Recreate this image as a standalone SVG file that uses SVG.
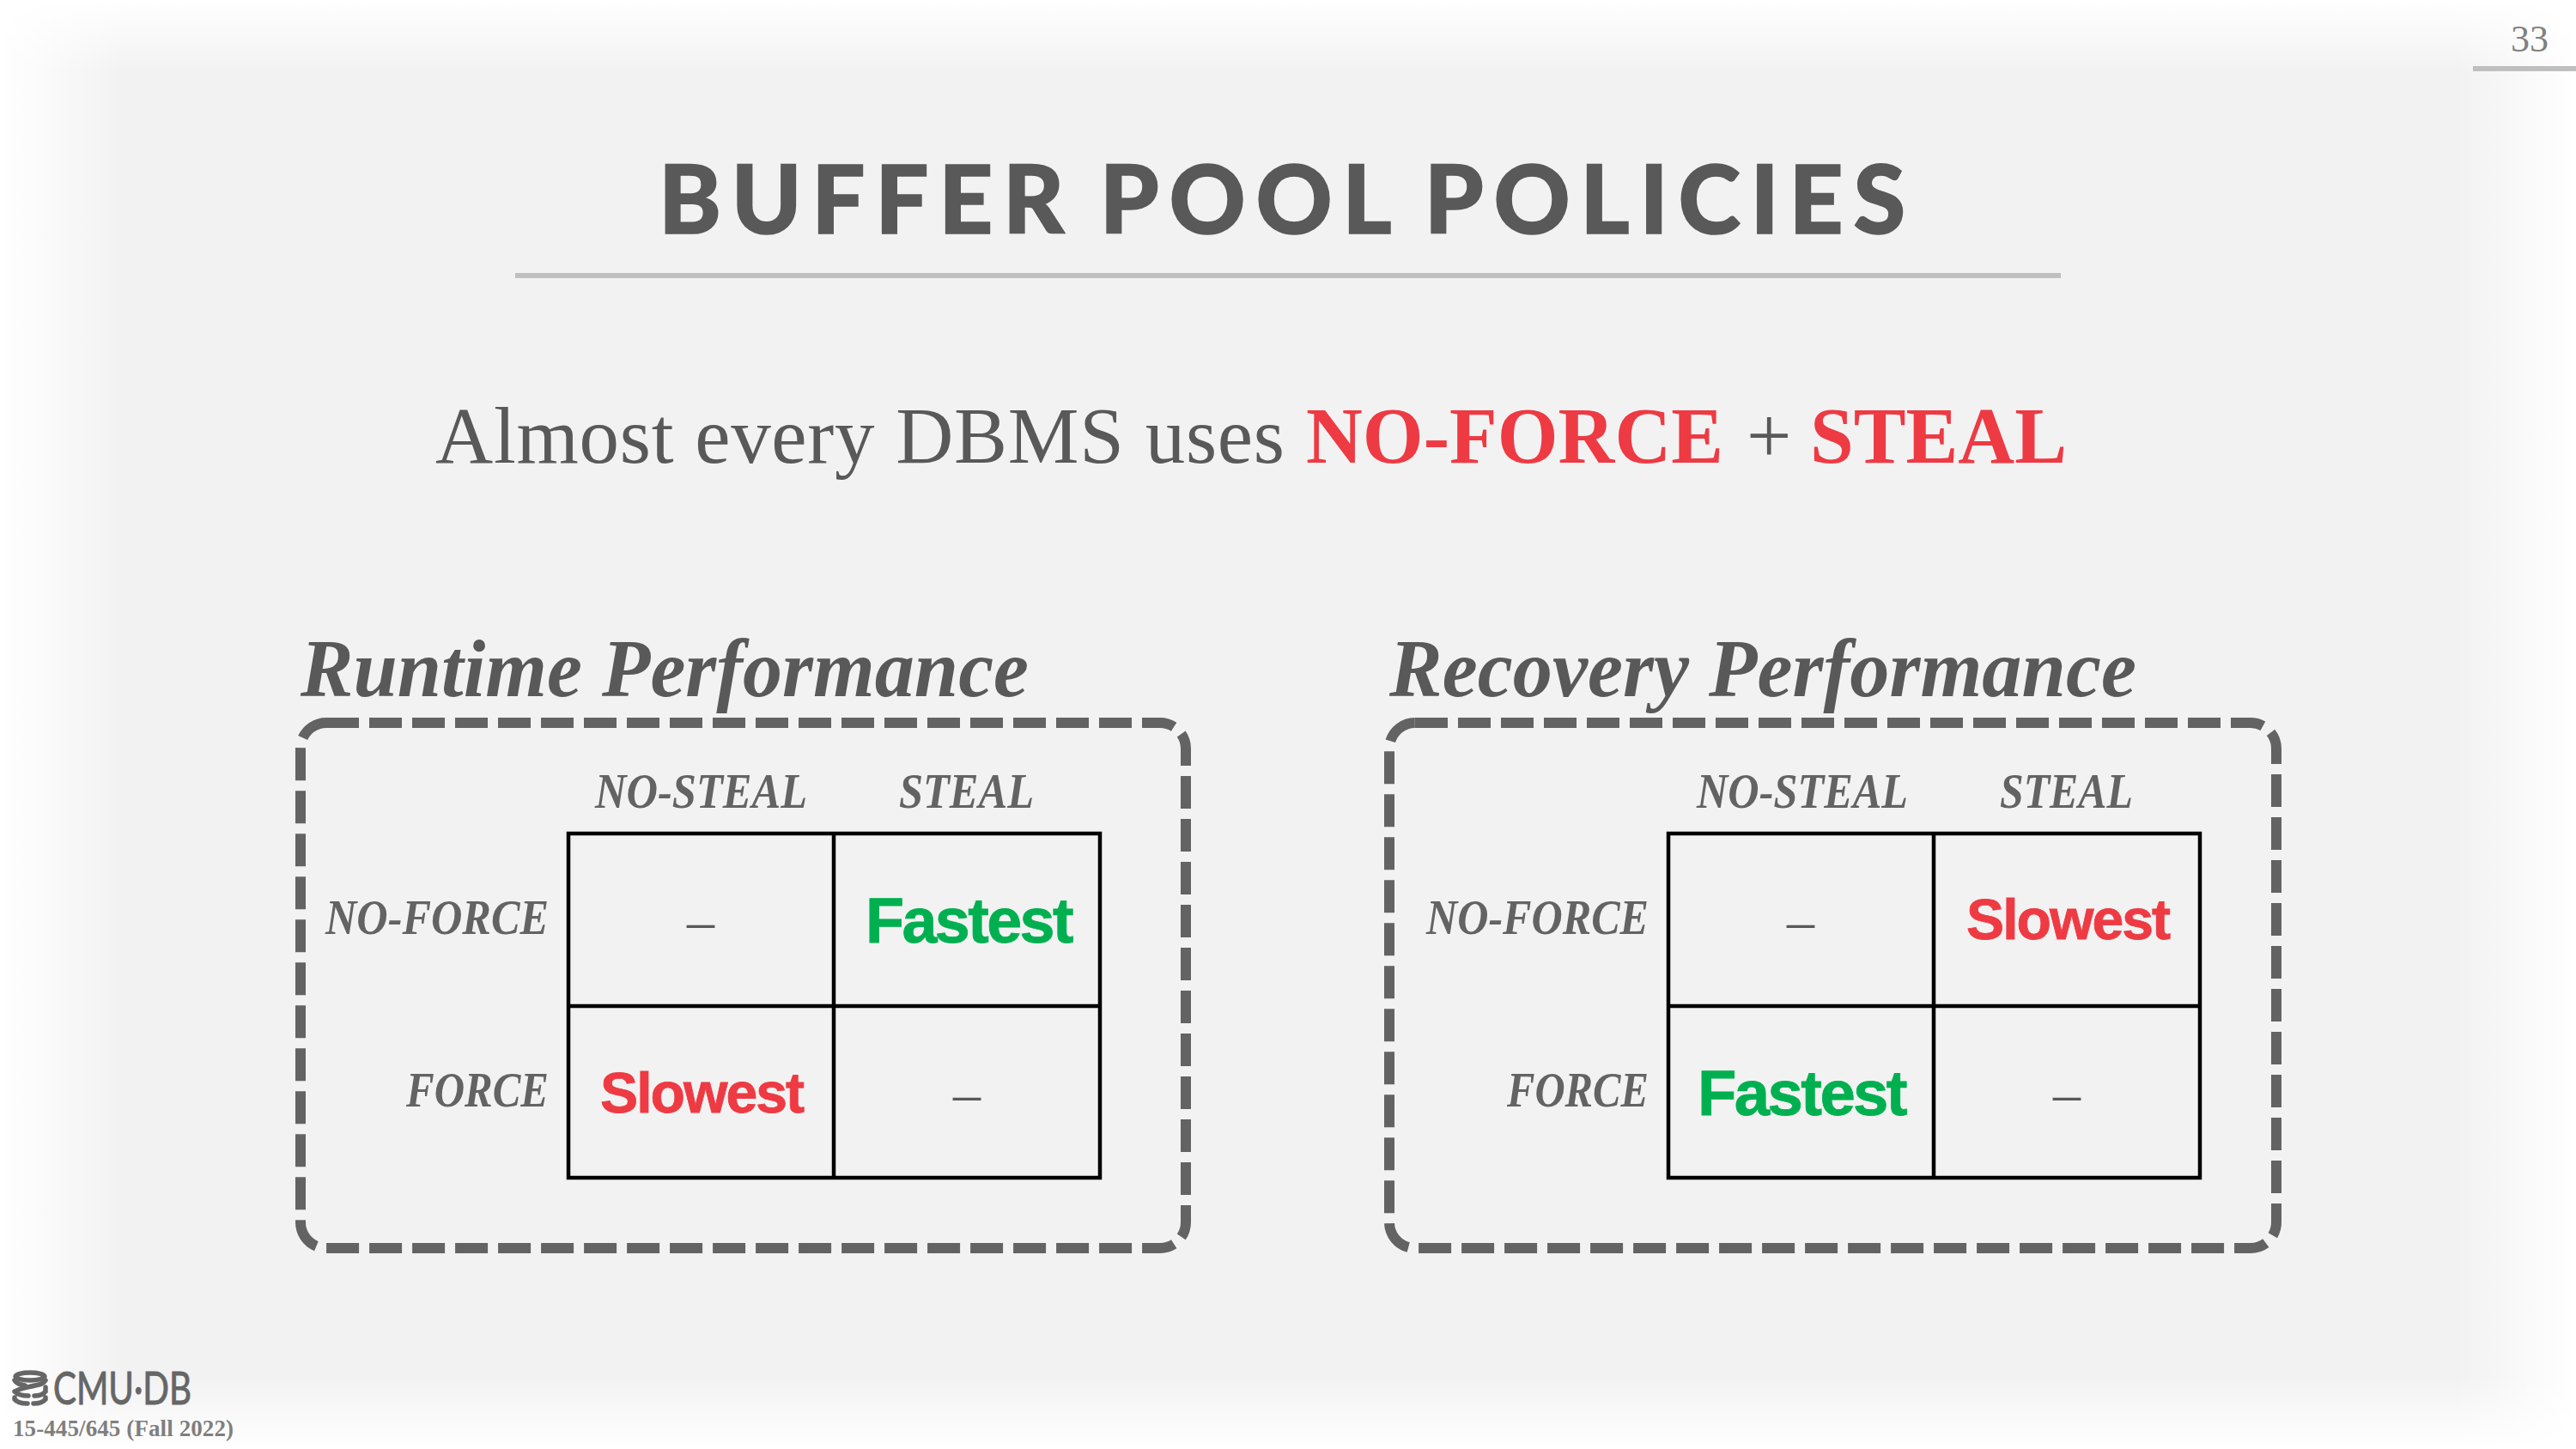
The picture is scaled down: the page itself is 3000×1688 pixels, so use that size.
<svg xmlns="http://www.w3.org/2000/svg" width="3000" height="1688" viewBox="0 0 3000 1688">
<defs>
<linearGradient id="fl" x1="0" x2="1" y1="0" y2="0"><stop offset="0" stop-color="#fff"/><stop offset="1" stop-color="#fff" stop-opacity="0"/></linearGradient>
<linearGradient id="fr" x1="1" x2="0" y1="0" y2="0"><stop offset="0" stop-color="#fff"/><stop offset="1" stop-color="#fff" stop-opacity="0"/></linearGradient>
<linearGradient id="ft" x1="0" x2="0" y1="0" y2="1"><stop offset="0" stop-color="#fff"/><stop offset="1" stop-color="#fff" stop-opacity="0"/></linearGradient>
<linearGradient id="fb" x1="0" x2="0" y1="1" y2="0"><stop offset="0" stop-color="#fff"/><stop offset="1" stop-color="#fff" stop-opacity="0"/></linearGradient>
</defs>
<style>
.s{font-family:"Liberation Serif","Noto Serif",serif}
.h{font-size:96px;font-weight:700;font-style:italic;fill:#595959}
.c{font-size:58px;font-weight:700;font-style:italic;fill:#636363}
.d{font-size:64px;fill:#595959;text-anchor:middle}
.fast{font-family:"Liberation Sans",Arial,sans-serif;font-weight:700;font-size:74px;letter-spacing:-2.6px;stroke:#00b050;stroke-width:.8;fill:#00b050;text-anchor:middle}
.slow{font-family:"Liberation Sans",Arial,sans-serif;font-weight:700;font-size:66px;letter-spacing:-2px;stroke:#ee3a43;stroke-width:.8;fill:#ee3a43;text-anchor:middle}
.box{fill:none;stroke:#636363;stroke-width:12;stroke-dasharray:38 12}
.grid{fill:none;stroke:#000;stroke-width:4.5}
.red{fill:#ee3a43;font-weight:700}
</style>
<rect width="3000" height="1688" fill="#f2f2f2"/>
<rect width="145" height="1688" fill="url(#fl)"/>
<rect x="2860" width="140" height="1688" fill="url(#fr)"/>
<rect width="3000" height="85" fill="url(#ft)"/>
<rect y="1603" width="3000" height="85" fill="url(#fb)"/>
<g id="page-number">
<text class="s" x="2946" y="60" font-size="44" fill="#808080" text-anchor="middle">33</text>
<rect x="2880" y="77" width="120" height="6" fill="#bfbfbf"/>
</g>
<g id="title">
<text x="767" y="272" font-family="Lato,sans-serif" font-weight="900" font-size="110" stroke="#595959" stroke-width="1.5" word-spacing="-8" textLength="1452" fill="#595959">BUFFER POOL POLICIES</text>
<rect x="600" y="318" width="1800" height="6" fill="#bfbfbf"/>
</g>
<text id="subtitle" class="s" y="539" font-size="93" fill="#595959"><tspan x="507" textLength="989">Almost every DBMS uses</tspan> <tspan class="red" x="1521" textLength="486" lengthAdjust="spacingAndGlyphs">NO-FORCE</tspan> <tspan x="2034">+</tspan> <tspan class="red" x="2108" textLength="299" lengthAdjust="spacingAndGlyphs">STEAL</tspan></text>
<g id="runtime">
<text class="s h" x="350" y="811" textLength="848" lengthAdjust="spacingAndGlyphs">Runtime Performance</text>
<rect class="box" x="350" y="842" width="1031" height="612" rx="30"/>
<text class="s c" x="693" y="941" textLength="247" lengthAdjust="spacingAndGlyphs">NO-STEAL</text>
<text class="s c" x="1047" y="941" textLength="157" lengthAdjust="spacingAndGlyphs">STEAL</text>
<text class="s c" x="379" y="1088" textLength="260" lengthAdjust="spacingAndGlyphs">NO-FORCE</text>
<text class="s c" x="473" y="1289" textLength="166" lengthAdjust="spacingAndGlyphs">FORCE</text>
<path class="grid" d="M662 971H1281V1372H662ZM971 971V1372M662 1172H1281"/>
<text class="s d" x="816" y="1094">–</text>
<text class="fast" x="1128" y="1098" textLength="240" lengthAdjust="spacingAndGlyphs">Fastest</text>
<text class="slow" x="817" y="1296" textLength="236" lengthAdjust="spacingAndGlyphs">Slowest</text>
<text class="s d" x="1126" y="1295">–</text>
</g>
<g id="recovery">
<text class="s h" x="1618" y="811" textLength="870" lengthAdjust="spacingAndGlyphs">Recovery Performance</text>
<rect class="box" x="1618" y="842" width="1033" height="612" rx="30"/>
<text class="s c" x="1976" y="941" textLength="246" lengthAdjust="spacingAndGlyphs">NO-STEAL</text>
<text class="s c" x="2329" y="941" textLength="155" lengthAdjust="spacingAndGlyphs">STEAL</text>
<text class="s c" x="1661" y="1088" textLength="259" lengthAdjust="spacingAndGlyphs">NO-FORCE</text>
<text class="s c" x="1755" y="1289" textLength="165" lengthAdjust="spacingAndGlyphs">FORCE</text>
<path class="grid" d="M1943 971H2562V1372H1943ZM2252 971V1372M1943 1172H2562"/>
<text class="s d" x="2097" y="1094">–</text>
<text class="slow" x="2408" y="1094" textLength="236" lengthAdjust="spacingAndGlyphs">Slowest</text>
<text class="fast" x="2098" y="1299" textLength="242" lengthAdjust="spacingAndGlyphs">Fastest</text>
<text class="s d" x="2407" y="1295">–</text>
</g>
<g id="footer">
<g fill="none" stroke="#666" stroke-width="5.5" stroke-linecap="round">
<ellipse cx="35" cy="1603.5" rx="17" ry="4.5"/>
<path d="M17 1608C19 1612 24 1613 29 1614M53 1608C51 1612 46 1613 41 1614C33 1616 22 1617 18 1621M17 1621C20 1624 26 1626 33 1626M53 1616V1621C50 1625 44 1626 40 1626M17 1628V1630C20 1634 27 1635 32 1635M53 1628V1630C50 1634 44 1635 39 1635"/>
</g>
<text x="62" y="1636" font-family="Lato,sans-serif" font-size="52" fill="#666" stroke="#666" stroke-width="1" textLength="161" lengthAdjust="spacingAndGlyphs">CMU·DB</text>
<text class="s" x="15" y="1673" font-size="27" font-weight="700" textLength="257" fill="#7f7f7f">15-445/645 (Fall 2022)</text>
</g>
</svg>
